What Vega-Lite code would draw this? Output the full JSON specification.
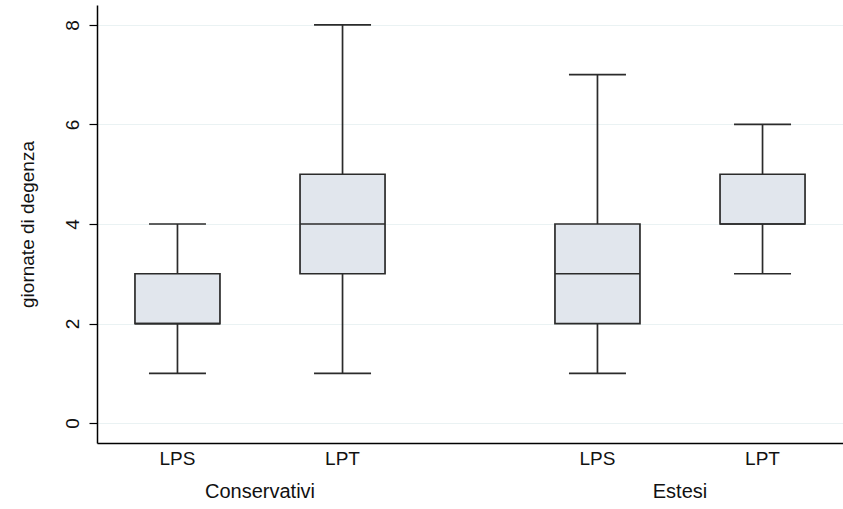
{
  "$schema": "https://vega.github.io/schema/vega-lite/v6.json",
  "width": 746,
  "height": 438,
  "autosize": "none",
  "padding": {"left": 97, "top": 5, "right": 0, "bottom": 66},
  "background": "white",
  "config": {
    "view": {"stroke": null},
    "font": "Liberation Sans",
    "axis": {"labelFont": "Liberation Sans", "titleFont": "Liberation Sans", "labelColor": "#111", "titleColor": "#111"}
  },
  "data": {
    "values": [
      {"gruppo": "Conservativi", "tipo": "LPS", "min": 1, "q1": 2, "median": 2, "q3": 3, "max": 4},
      {"gruppo": "Conservativi", "tipo": "LPT", "min": 1, "q1": 3, "median": 4, "q3": 5, "max": 8},
      {"gruppo": "Estesi", "tipo": "LPS", "min": 1, "q1": 2, "median": 3, "q3": 4, "max": 7},
      {"gruppo": "Estesi", "tipo": "LPT", "min": 3, "q1": 4, "median": 4, "q3": 5, "max": 6}
    ]
  },
  "encoding": {
    "x": {
      "field": "gruppo", "type": "nominal",
      "scale": {"paddingInner": 0.2238, "paddingOuter": 0},
      "axis": {"title": null, "labelAngle": 0, "ticks": false, "labelPadding": 38, "labelFontSize": 20, "domainColor": "#000", "domainWidth": 1.5, "grid": false}
    },
    "xOffset": {
      "field": "tipo", "type": "nominal",
      "scale": {"paddingInner": 0.485, "paddingOuter": 0.23}
    }
  },
  "layer": [
    {
      "mark": {"type": "rule", "color": "#2b2b2b", "strokeWidth": 1.7},
      "encoding": {
        "y": {
          "field": "min", "type": "quantitative",
          "scale": {"domain": [-0.4, 8.4], "nice": false, "zero": false},
          "axis": {
            "title": "giornate di degenza", "titleFontSize": 19, "titleFontWeight": "normal", "titlePadding": 26,
            "values": [0, 2, 4, 6, 8], "labelAngle": 270, "labelFontSize": 19, "labelPadding": 7,
            "tickSize": 8, "tickColor": "#000", "tickWidth": 1.2,
            "domainColor": "#000", "domainWidth": 1.5,
            "grid": true, "gridColor": "#eaf2f3", "gridWidth": 1.2
          }
        },
        "y2": {"field": "max"}
      }
    },
    {
      "mark": {"type": "bar", "fill": "#e1e6ed", "stroke": "#2b2b2b", "strokeWidth": 1.7},
      "encoding": {
        "y": {"field": "q1", "type": "quantitative"},
        "y2": {"field": "q3"}
      }
    },
    {
      "mark": {"type": "tick", "color": "#2b2b2b", "thickness": 1.7, "size": 85, "opacity": 1},
      "encoding": {"y": {"field": "median", "type": "quantitative"}}
    },
    {
      "mark": {"type": "tick", "color": "#2b2b2b", "thickness": 1.7, "size": 57, "opacity": 1},
      "encoding": {"y": {"field": "min", "type": "quantitative"}}
    },
    {
      "mark": {"type": "tick", "color": "#2b2b2b", "thickness": 1.7, "size": 57, "opacity": 1},
      "encoding": {"y": {"field": "max", "type": "quantitative"}}
    },
    {
      "mark": {"type": "text", "fontSize": 19, "color": "#111", "baseline": "middle", "align": "center"},
      "encoding": {
        "y": {"datum": -0.72},
        "text": {"field": "tipo"}
      }
    }
  ]
}
